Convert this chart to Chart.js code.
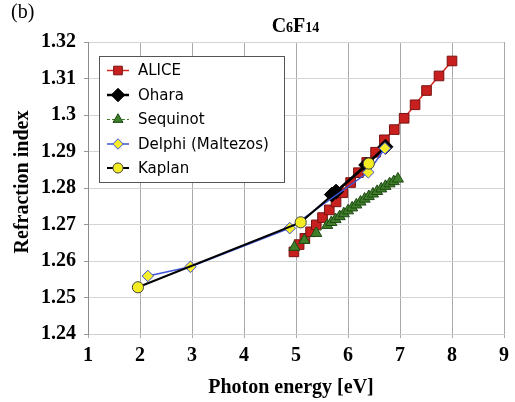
<!DOCTYPE html>
<html>
<head>
<meta charset="utf-8">
<script src="https://cdn.jsdelivr.net/npm/chart.js@4/dist/chart.umd.min.js"></script>
<style>
  html, body { margin: 0; padding: 0; background: #fff; }
  #wrap { width: 515px; height: 402px; }
</style>
</head>
<body>
<div id="wrap"><canvas id="c" width="515" height="402"></canvas></div>
<script>
// values: photon energy [eV] / refraction index
const aliceX = [4.96, 5.06, 5.17, 5.28, 5.39, 5.51, 5.64, 5.77, 5.90, 6.05, 6.20, 6.36, 6.53, 6.70, 6.89, 7.08, 7.29, 7.51, 7.75, 8.00];
const aliceY = [1.2625, 1.2645, 1.2662, 1.2680, 1.2699, 1.2719, 1.2740, 1.2762, 1.2787, 1.2815, 1.2842, 1.2870, 1.2898, 1.2932, 1.2960, 1.2991, 1.3028, 1.3067, 1.3107, 1.3148];

const oharaX = [5.69, 5.77, 6.35, 6.72];
const oharaY = [1.2782, 1.2790, 1.2863, 1.2913];

const sequinotX = [4.97, 5.16, 5.39, 5.60, 5.68, 5.76, 5.84, 5.92, 6.00, 6.08, 6.16, 6.24, 6.32, 6.40, 6.48, 6.56, 6.64, 6.72, 6.80, 6.88, 6.96];
const sequinotY = [1.2638, 1.2657, 1.2676, 1.2698, 1.2706, 1.2714, 1.2722, 1.2730, 1.2738, 1.2746, 1.2754, 1.2762, 1.2770, 1.2777, 1.2784, 1.2791, 1.2798, 1.2805, 1.2812, 1.2818, 1.2825];

const delphiX = [2.15, 2.97, 4.88, 6.39, 6.71];
const delphiY = [1.2559, 1.2584, 1.2690, 1.2843, 1.2909];

const kaplanX = [1.96, 5.09, 6.40];
const kaplanY = [1.2528, 1.2706, 1.2867];

const xTicks = [1, 2, 3, 4, 5, 6, 7, 8, 9];
const yMin = 1.24, yMax = 1.32;

function pts(xs, ys) {
  return xs.map((x, i) => ({ x: x, y: ys[i] }));
}

const serif = '"Liberation Serif", "Times New Roman", serif';
const sans = '"DejaVu Sans", Verdana, sans-serif';

const series = [
  { label: 'ALICE', data: pts(aliceX, aliceY), style: 'rect', r: 6.8, fill: '#c8201e', stroke: '#7a1212', line: '#d42a22', lw: 1.5, dash: [], order: 5 },
  { label: 'Ohara', data: pts(oharaX, oharaY), style: 'rectRot', r: 7.5, fill: '#000000', stroke: '#000000', line: '#000000', lw: 2.5, dash: [], order: 4 },
  { label: 'Sequinot', data: pts(sequinotX, sequinotY), style: 'triangle', r: 6.4, fill: '#3f7f2a', stroke: '#1f4a14', line: '#3f7f2a', lw: 1, dash: [3, 2], order: 3 },
  { label: 'Delphi (Maltezos)', data: pts(delphiX, delphiY), style: 'rectRot', r: 5.8, fill: '#f4ec2c', stroke: '#3f55d6', line: '#3f55d6', lw: 1.5, dash: [], order: 2 },
  { label: 'Kaplan', data: pts(kaplanX, kaplanY), style: 'circle', r: 5.6, fill: '#f4ec22', stroke: '#444444', line: '#000000', lw: 2, dash: [], order: 1 }
];

function marker(ctx, s, x, y, k) {
  const r = s.r * k;
  ctx.save();
  ctx.fillStyle = s.fill;
  ctx.strokeStyle = s.stroke;
  ctx.lineWidth = 1;
  ctx.setLineDash([]);
  ctx.beginPath();
  if (s.style === 'rect') {
    const h = r * Math.SQRT1_2;
    ctx.rect(x - h, y - h, 2 * h, 2 * h);
  } else if (s.style === 'rectRot') {
    ctx.moveTo(x, y - r); ctx.lineTo(x + r, y); ctx.lineTo(x, y + r); ctx.lineTo(x - r, y); ctx.closePath();
  } else if (s.style === 'triangle') {
    ctx.moveTo(x, y - r); ctx.lineTo(x + 0.866 * r, y + r / 2); ctx.lineTo(x - 0.866 * r, y + r / 2); ctx.closePath();
  } else {
    ctx.arc(x, y, r, 0, Math.PI * 2);
  }
  ctx.fill();
  ctx.stroke();
  ctx.restore();
}

const extras = {
  id: 'extras',
  beforeDraw(chart) {
    const ctx = chart.ctx;
    ctx.save();
    ctx.fillStyle = '#fff';
    ctx.fillRect(0, 0, chart.width, chart.height);
    ctx.restore();
  },
  afterDraw(chart) {
    const ctx = chart.ctx;
    ctx.save();
    ctx.fillStyle = '#000';
    ctx.textBaseline = 'alphabetic';

    // panel letter
    ctx.font = '20px ' + serif;
    ctx.textAlign = 'left';
    ctx.fillText('(b)', 11, 18);

    // title C6F14 with small digits
    const parts = [['C', 20], ['6', 14], ['F', 20], ['14', 14]];
    let tw = 0;
    parts.forEach(p => { ctx.font = 'bold ' + p[1] + 'px ' + serif; tw += ctx.measureText(p[0]).width; });
    let tx = 295.5 - tw / 2;
    parts.forEach(p => {
      ctx.font = 'bold ' + p[1] + 'px ' + serif;
      ctx.fillText(p[0], tx, p[1] === 20 ? 31.5 : 32);
      tx += ctx.measureText(p[0]).width;
    });

    // axis titles
    ctx.font = 'bold 20px ' + serif;
    ctx.textAlign = 'center';
    ctx.fillText('Photon energy [eV]', 291, 393);
    ctx.save();
    ctx.translate(27.5, 182);
    ctx.rotate(-Math.PI / 2);
    ctx.fillText('Refraction index', 0, 0);
    ctx.restore();

    // legend box
    const bx = 99.5, by = 56.5, bw = 185, bh = 126;
    ctx.fillStyle = '#fff';
    ctx.fillRect(bx, by, bw, bh);
    ctx.strokeStyle = '#555';
    ctx.lineWidth = 1;
    ctx.strokeRect(bx, by, bw, bh);
    const rows = [70.5, 95, 119.5, 144, 168];
    series.forEach((s, i) => {
      const y = rows[i];
      ctx.save();
      ctx.strokeStyle = s.line;
      ctx.lineWidth = s.lw;
      ctx.setLineDash(s.dash);
      ctx.beginPath();
      ctx.moveTo(107, y);
      ctx.lineTo(129, y);
      ctx.stroke();
      ctx.restore();
      marker(ctx, s, 118, y, 0.9);
      ctx.fillStyle = '#000';
      ctx.font = '15px ' + sans;
      ctx.textAlign = 'left';
      ctx.textBaseline = 'middle';
      ctx.fillText(s.label, 138, y + 1);
    });
    ctx.restore();
  }
};

new Chart(document.getElementById('c'), {
  type: 'scatter',
  data: {
    datasets: series.map(s => ({
      label: s.label,
      data: s.data,
      showLine: true,
      order: s.order,
      borderColor: s.line,
      borderWidth: s.lw,
      borderDash: s.dash,
      pointStyle: s.style,
      pointRadius: s.r,
      pointHoverRadius: s.r,
      pointBackgroundColor: s.fill,
      pointBorderColor: s.stroke,
      pointBorderWidth: 1,
      tension: 0
    }))
  },
  options: {
    responsive: false,
    devicePixelRatio: 1,
    animation: false,
    events: [],
    layout: { padding: { top: 42, right: 9, left: 0, bottom: 0 } },
    plugins: {
      legend: { display: false },
      title: { display: false },
      tooltip: { enabled: false }
    },
    scales: {
      x: {
        type: 'linear',
        min: xTicks[0],
        max: xTicks[xTicks.length - 1],
        afterBuildTicks: scale => { scale.ticks = xTicks.map(v => ({ value: v })); },
        afterFit: scale => { scale.height = 68; },
        grid: { color: '#a9a9a9', lineWidth: 1, tickLength: 4, tickColor: '#a9a9a9' },
        border: { color: '#cfcfcf' },
        ticks: {
          padding: 6,
          color: '#000',
          font: { family: serif, size: 20, weight: 'bold' },
          callback: v => String(v)
        }
      },
      y: {
        type: 'linear',
        min: yMin,
        max: yMax,
        afterFit: scale => { scale.width = 88; },
        ticks: {
          stepSize: 0.005,
          padding: 8,
          color: '#000',
          font: { family: serif, size: 20, weight: 'bold' },
          callback: v => {
            const k = Math.round(v * 1000);
            return k % 10 === 0 ? String(+(k / 1000).toFixed(2)) : '';
          }
        },
        grid: {
          tickLength: 4,
          color: c => (Math.round(c.tick.value * 1000) % 10 === 0 ? '#d4d4d4' : '#ebebeb'),
          tickColor: c => (Math.round(c.tick.value * 1000) % 10 === 0 ? '#999' : 'rgba(0,0,0,0)')
        },
        border: { color: '#8c8c8c' }
      }
    }
  },
  plugins: [extras]
});
</script>
</body>
</html>
